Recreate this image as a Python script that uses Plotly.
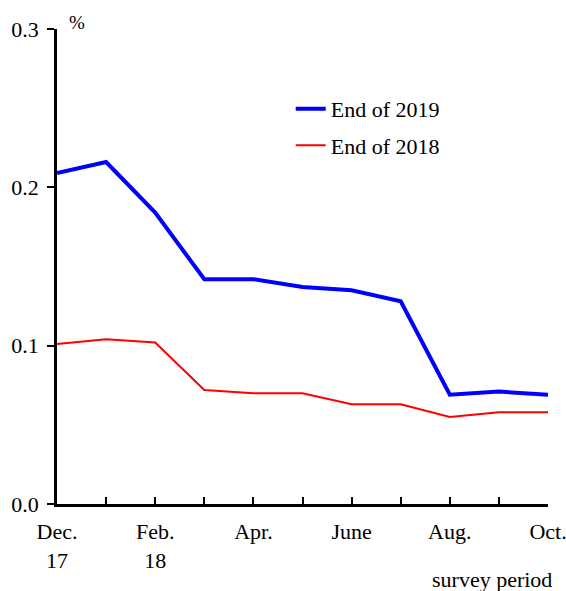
import plotly.graph_objects as go

periods = ["Dec. 17", "Jan. 18", "Feb. 18", "Mar. 18", "Apr. 18", "May 18",
           "June 18", "July 18", "Aug. 18", "Sep. 18", "Oct. 18"]
tick_labels = ["Dec.<br>17", "", "Feb.<br>18", "", "Apr.", "", "June", "", "Aug.", "", "Oct."]
end_2019 = [0.209, 0.216, 0.184, 0.142, 0.142, 0.137, 0.135, 0.128, 0.069, 0.071, 0.069]
end_2018 = [0.101, 0.104, 0.102, 0.072, 0.070, 0.070, 0.063, 0.063, 0.055, 0.058, 0.058]
y_ticks = [0.0, 0.1, 0.2, 0.3]

FONT = "Liberation Serif"
FS = 22

fig = go.Figure()
fig.add_trace(go.Scatter(x=periods, y=end_2019, mode="lines", name="End of 2019",
                         legendgroup="a", line=dict(color="#0000ff", width=4)))
fig.add_trace(go.Scatter(x=periods, y=end_2018, mode="lines", name="End of 2018",
                         legendgroup="b", line=dict(color="#ff0000", width=2)))

fig.update_layout(
    width=566, height=591,
    margin=dict(l=57, r=18, t=29, b=87),
    paper_bgcolor="white", plot_bgcolor="white",
    font=dict(family=FONT, size=FS, color="black"),
    showlegend=True,
    legend=dict(x=0.476, y=0.876, xanchor="left", yanchor="top",
                bgcolor="rgba(0,0,0,0)", font=dict(size=FS, family=FONT),
                traceorder="grouped", tracegroupgap=5, itemwidth=30),
    xaxis=dict(type="category", range=[0, len(periods) - 1],
               tickmode="array", tickvals=periods, ticktext=tick_labels,
               ticks="inside", ticklen=7, tickwidth=1.5, tickcolor="black",
               showline=True, linecolor="black", linewidth=2.5, automargin=False,
               showgrid=False, zeroline=False, ticklabelstandoff=6),
    yaxis=dict(range=[0, 0.3], tickmode="array", tickvals=y_ticks,
               tickformat=".1f", ticks="outside", ticklen=7, tickwidth=1.5,
               tickcolor="black", showline=True, linecolor="black", linewidth=2.5,
               automargin=False,
               showgrid=False, zeroline=False, ticklabelstandoff=4),
    annotations=[
        dict(text="%", xref="paper", yref="paper", x=0.02, y=1.0, xanchor="left",
             yanchor="bottom", yshift=-6, showarrow=False, font=dict(size=19, family=FONT)),
        dict(text="survey period", xref="paper", yref="paper", x=1.0, y=0,
             xanchor="right", yanchor="top", xshift=6, yshift=-61, showarrow=False,
             font=dict(size=FS, family=FONT)),
    ],
)

fig.write_html("out.html", config={"displayModeBar": False},
               post_script="document.body.style.margin='0';document.body.style.overflow='hidden';")
